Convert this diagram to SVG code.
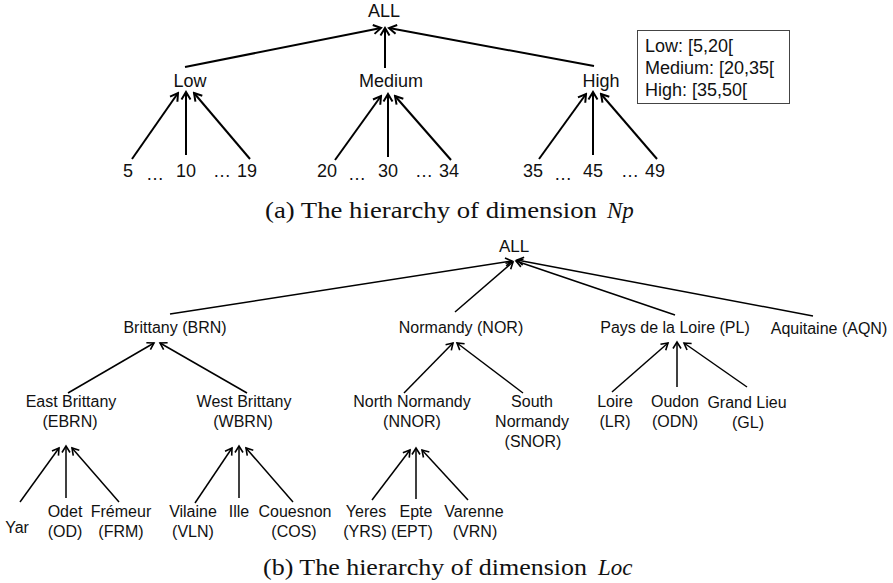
<svg xmlns="http://www.w3.org/2000/svg" width="893" height="583" viewBox="0 0 893 583">
<style>
  .t18 { font-family: "Liberation Sans", Arial, sans-serif; font-size: 18px; fill: #111; text-anchor: middle; }
  .t18s { font-family: "Liberation Sans", Arial, sans-serif; font-size: 18px; fill: #111; }
  .t16 { font-family: "Liberation Sans", Arial, sans-serif; font-size: 16px; fill: #111; text-anchor: middle; }
  .cap { font-family: "Liberation Serif", "Times New Roman", serif; font-size: 23px; fill: #111; }
  .capi { font-style: italic; }
  .c1 { stroke: #000; stroke-width: 2; fill: none; marker-end: url(#ah1); }
  .c2 { stroke: #000; stroke-width: 1.5; fill: none; marker-end: url(#ah2); }
</style>
<defs>
  <marker id="ah1" viewBox="-10 -6 12 12" refX="0" refY="0" markerWidth="12" markerHeight="12" orient="auto" markerUnits="userSpaceOnUse">
    <path d="M-7.5,-4.5 L0,0 L-7.5,4.5" fill="none" stroke="#000" stroke-width="2"/>
  </marker>
  <marker id="ah2" viewBox="-10 -6 12 12" refX="0" refY="0" markerWidth="12" markerHeight="12" orient="auto" markerUnits="userSpaceOnUse">
    <path d="M-6.5,-4 L0,0 L-6.5,4" fill="none" stroke="#000" stroke-width="1.6"/>
  </marker>
</defs>
<rect width="893" height="583" fill="#fff"/>

<g id="connectors">
  <!-- top hierarchy -->
  <line class="c1" x1="185" y1="67" x2="381" y2="28"/>
  <line class="c1" x1="385" y1="68" x2="385" y2="28"/>
  <line class="c1" x1="594" y1="66" x2="389" y2="28"/>
  <line class="c1" x1="132" y1="159" x2="178" y2="93"/>
  <line class="c1" x1="186" y1="155" x2="186" y2="92"/>
  <line class="c1" x1="250" y1="159" x2="194" y2="93"/>
  <line class="c1" x1="335" y1="160" x2="381" y2="96"/>
  <line class="c1" x1="388" y1="157" x2="388" y2="94"/>
  <line class="c1" x1="451" y1="160" x2="395" y2="96"/>
  <line class="c1" x1="539" y1="159" x2="586" y2="94"/>
  <line class="c1" x1="593" y1="155" x2="593" y2="92"/>
  <line class="c1" x1="657" y1="159" x2="601" y2="94"/>
  <!-- bottom hierarchy -->
  <line class="c2" x1="170" y1="314" x2="512" y2="261"/>
  <line class="c2" x1="455" y1="312" x2="513" y2="262"/>
  <line class="c2" x1="675" y1="315" x2="516" y2="261"/>
  <line class="c2" x1="813" y1="316" x2="517" y2="260"/>
  <line class="c2" x1="68" y1="393" x2="154" y2="343"/>
  <line class="c2" x1="247" y1="393" x2="160" y2="343"/>
  <line class="c2" x1="404" y1="393" x2="453" y2="343"/>
  <line class="c2" x1="523" y1="393" x2="457" y2="343"/>
  <line class="c2" x1="612" y1="392" x2="668" y2="343"/>
  <line class="c2" x1="677" y1="387" x2="677" y2="342"/>
  <line class="c2" x1="747" y1="387" x2="684" y2="343"/>
  <line class="c2" x1="20" y1="502" x2="59" y2="448"/>
  <line class="c2" x1="66" y1="498" x2="66" y2="446"/>
  <line class="c2" x1="119" y1="502" x2="72" y2="448"/>
  <line class="c2" x1="195" y1="503" x2="232" y2="448"/>
  <line class="c2" x1="239" y1="498" x2="239" y2="446"/>
  <line class="c2" x1="293" y1="502" x2="246" y2="448"/>
  <line class="c2" x1="372" y1="500" x2="410" y2="450"/>
  <line class="c2" x1="416" y1="499" x2="416" y2="448"/>
  <line class="c2" x1="468" y1="500" x2="422" y2="450"/>
</g>

<!-- Top hierarchy nodes -->
<g id="np-all"><text class="t18" x="384" y="17">ALL</text></g>
<g id="np-low"><text class="t18" x="190" y="87">Low</text></g>
<g id="np-medium"><text class="t18" x="391" y="87">Medium</text></g>
<g id="np-high"><text class="t18" x="601" y="87">High</text></g>
<g id="np-5"><text class="t18" x="128" y="177">5</text></g>
<g id="np-dots1"><text class="t18" x="155" y="180">…</text></g>
<g id="np-10"><text class="t18" x="186" y="177">10</text></g>
<g id="np-dots2"><text class="t18" x="222" y="177">…</text></g>
<g id="np-19"><text class="t18" x="247" y="177">19</text></g>
<g id="np-20"><text class="t18" x="327" y="177">20</text></g>
<g id="np-dots3"><text class="t18" x="357" y="180">…</text></g>
<g id="np-30"><text class="t18" x="388" y="177">30</text></g>
<g id="np-dots4"><text class="t18" x="424" y="177">…</text></g>
<g id="np-34"><text class="t18" x="449" y="177">34</text></g>
<g id="np-35"><text class="t18" x="533" y="177">35</text></g>
<g id="np-dots5"><text class="t18" x="563" y="180">…</text></g>
<g id="np-45"><text class="t18" x="593" y="177">45</text></g>
<g id="np-dots6"><text class="t18" x="630" y="177">…</text></g>
<g id="np-49"><text class="t18" x="655" y="177">49</text></g>

<g id="legend">
  <rect x="637.5" y="30.5" width="152" height="73" fill="#fff" stroke="#444" stroke-width="1"/>
  <text class="t18s" x="645" y="52">Low: [5,20[</text>
  <text class="t18s" x="645" y="74">Medium: [20,35[</text>
  <text class="t18s" x="645" y="96">High: [35,50[</text>
</g>

<g id="caption-a">
  <text class="cap" x="265" y="218" textLength="332" lengthAdjust="spacingAndGlyphs">(a) The hierarchy of dimension</text>
  <text class="cap capi" x="607" y="218">Np</text>
</g>

<!-- Bottom hierarchy nodes -->
<g id="loc-all"><text class="t16" x="514" y="252" style="font-size:17px">ALL</text></g>
<g id="loc-brn"><text class="t16" x="175" y="333">Brittany (BRN)</text></g>
<g id="loc-nor"><text class="t16" x="461" y="333">Normandy (NOR)</text></g>
<g id="loc-pl"><text class="t16" x="675" y="333">Pays de la Loire (PL)</text></g>
<g id="loc-aqn"><text class="t16" x="829" y="334">Aquitaine (AQN)</text></g>

<g id="loc-ebrn"><text class="t16" x="71" y="407">East Brittany</text><text class="t16" x="70" y="427">(EBRN)</text></g>
<g id="loc-wbrn"><text class="t16" x="244" y="407">West Brittany</text><text class="t16" x="243" y="427">(WBRN)</text></g>
<g id="loc-nnor"><text class="t16" x="412" y="407">North Normandy</text><text class="t16" x="412" y="427">(NNOR)</text></g>
<g id="loc-snor"><text class="t16" x="532" y="407">South</text><text class="t16" x="532" y="427">Normandy</text><text class="t16" x="533" y="447">(SNOR)</text></g>
<g id="loc-lr"><text class="t16" x="615" y="407">Loire</text><text class="t16" x="615" y="427">(LR)</text></g>
<g id="loc-odn"><text class="t16" x="675" y="407">Oudon</text><text class="t16" x="675" y="427">(ODN)</text></g>
<g id="loc-gl"><text class="t16" x="747" y="408">Grand Lieu</text><text class="t16" x="748" y="428">(GL)</text></g>

<g id="loc-yar"><text class="t16" x="17" y="533">Yar</text></g>
<g id="loc-od"><text class="t16" x="65" y="517">Odet</text><text class="t16" x="65" y="537">(OD)</text></g>
<g id="loc-frm"><text class="t16" x="121" y="517">Frémeur</text><text class="t16" x="121" y="537">(FRM)</text></g>
<g id="loc-vln"><text class="t16" x="193" y="517">Vilaine</text><text class="t16" x="193" y="537">(VLN)</text></g>
<g id="loc-ille"><text class="t16" x="239" y="517">Ille</text></g>
<g id="loc-cos"><text class="t16" x="295" y="517">Couesnon</text><text class="t16" x="294" y="537">(COS)</text></g>
<g id="loc-yrs"><text class="t16" x="366" y="517">Yeres</text><text class="t16" x="365" y="537">(YRS)</text></g>
<g id="loc-ept"><text class="t16" x="416" y="517">Epte</text><text class="t16" x="412" y="537">(EPT)</text></g>
<g id="loc-vrn"><text class="t16" x="474" y="517">Varenne</text><text class="t16" x="475" y="537">(VRN)</text></g>

<g id="caption-b">
  <text class="cap" x="263" y="575" textLength="324" lengthAdjust="spacingAndGlyphs">(b) The hierarchy of dimension</text>
  <text class="cap capi" x="598" y="575">Loc</text>
</g>
</svg>
